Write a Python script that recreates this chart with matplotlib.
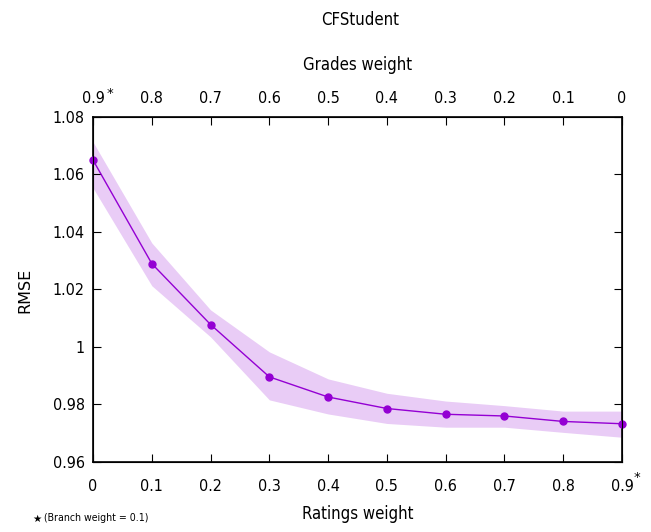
import matplotlib
matplotlib.use("Agg")
import matplotlib.pyplot as plt

ratings_w = [0.0, 0.1, 0.2, 0.3, 0.4, 0.5, 0.6, 0.7, 0.8, 0.9]
rmse = [1.0650, 1.0290, 1.0078, 0.9896, 0.9826, 0.9786, 0.9766, 0.9760, 0.9741, 0.9733]
rmse_hi = [1.0713, 1.0362, 1.0129, 0.9983, 0.9889, 0.9839, 0.9812, 0.9796, 0.9777, 0.9777]
rmse_lo = [1.0553, 1.0213, 1.0035, 0.9816, 0.9767, 0.9734, 0.9721, 0.9721, 0.9703, 0.9686]
bottom_labels = ['0', '0.1', '0.2', '0.3', '0.4', '0.5', '0.6', '0.7', '0.8', '0.9']
top_labels = ['0.9', '0.8', '0.7', '0.6', '0.5', '0.4', '0.3', '0.2', '0.1', '0']
yticks = [0.96, 0.98, 1.0, 1.02, 1.04, 1.06, 1.08]
ytick_labels = ['0.96', '0.98', '1', '1.02', '1.04', '1.06', '1.08']

plt.rcParams['font.family'] = ['DejaVu Sans']
COND = 'condensed'

fig = plt.figure(figsize=(6.51, 5.32), dpi=100)
ax = fig.add_axes([0.1429, 0.1316, 0.8126, 0.6485])
color = '#9400D3'
ax.fill_between(ratings_w, rmse_lo, rmse_hi, color=color, alpha=0.2, linewidth=0)
ax.plot(ratings_w, rmse, color=color, linewidth=1, marker='o', markersize=5, clip_on=False, zorder=3)
ax.set_xlim(0, 0.9)
ax.set_ylim(0.96, 1.08)
ax.set_xticks(ratings_w)
ax.set_xticklabels(bottom_labels, fontsize=11.5, stretch=COND)
ax.set_yticks(yticks)
ax.set_yticklabels(ytick_labels, fontsize=11.5, stretch=COND)
ax.tick_params(axis='x', direction='in', length=6, width=0.8, pad=12)
ax.tick_params(axis='y', direction='in', length=6, width=0.8, right=True, pad=6)
for lbl in ax.get_yticklabels():
    lbl.set_va('center_baseline')
ax.set_xlabel('Ratings weight', fontsize=12, stretch=COND, labelpad=8)

ax2 = ax.twiny()
ax2.set_xlim(0, 0.9)
ax2.set_xticks(ratings_w)
ax2.set_xticklabels(top_labels, fontsize=11.5, stretch=COND)
ax2.tick_params(direction='in', length=6, width=0.8, pad=8)
ax2.set_xlabel('Grades weight', fontsize=12, stretch=COND, labelpad=15)

# asterisks on the 0.9 tick labels
ax.annotate('*', xy=(0.9, 0), xycoords=('data', 'axes fraction'), xytext=(10.5, -11),
            textcoords='offset points', fontsize=9.5, ha='center', va='center', annotation_clip=False)
ax.annotate('*', xy=(0.0, 1), xycoords=('data', 'axes fraction'), xytext=(12.5, 17),
            textcoords='offset points', fontsize=9.5, ha='center', va='center', annotation_clip=False)

fig.text(25 / 651, 1 - 290 / 532, 'RMSE', rotation=90, ha='center', va='center', fontsize=11.5)
fig.text(0.553, 0.962, 'CFStudent', ha='center', va='center', fontsize=12, stretch=COND)
fig.text(37 / 651, 1 - 519 / 532, '\u2605', ha='center', va='center', fontsize=7.5)
fig.text(44 / 651, 1 - 518 / 532, '(Branch weight = 0.1)', ha='left', va='center', fontsize=7.6, stretch=COND)

for s in ax.spines.values():
    s.set_linewidth(1.2)

fig.savefig('out.png', dpi=100)
